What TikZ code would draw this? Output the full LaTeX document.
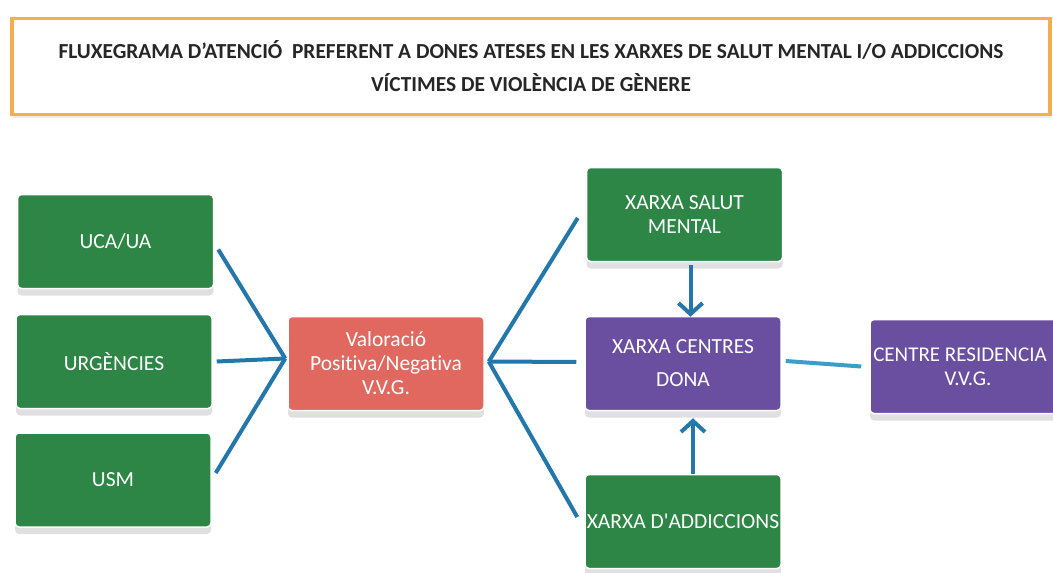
\documentclass[tikz,border=0pt]{standalone}
\usepackage{fontspec}
\setmainfont{Carlito}[Ligatures={NoCommon}]
\usetikzlibrary{arrows.meta,shadows}
\definecolor{boxgreen}{HTML}{2E8646}
\definecolor{boxpurple}{HTML}{6A4FA0}
\definecolor{boxsalmon}{HTML}{E0685E}
\definecolor{linkblue}{HTML}{2377AA}
\definecolor{linklight}{HTML}{3A9DCA}
\definecolor{titleorange}{HTML}{F6AC50}
\tikzset{
  box/.style={rectangle, rounded corners=4pt, draw=white, line width=1.5pt,
    minimum width=196pt, minimum height=94pt, inner sep=2pt,
    text=white, font=\fontsize{21.5pt}{24pt}\selectfont, align=center,
    drop shadow={shadow xshift=0pt, shadow yshift=-7pt, fill=black, opacity=0.12}},
  gbox/.style={box, fill=boxgreen},
  pbox/.style={box, fill=boxpurple},
  sbox/.style={box, fill=boxsalmon},
  conn/.style={draw=linkblue, line width=4pt},
  arr/.style={draw=linkblue, line width=4pt, -{Straight Barb[length=11pt,width=24pt,line width=4pt]}},
}
\begin{document}
\begin{tikzpicture}[x=1pt,y=-1pt]
\useasboundingbox (0,0) rectangle (1053,573);
\clip (0,0) rectangle (1053,573);
\fill[white] (0,0) rectangle (1053,573);
% title
\node[draw=titleorange, line width=3.5pt, minimum width=1038pt, minimum height=96pt,
      drop shadow={shadow xshift=1pt, shadow yshift=-3pt, fill=black, opacity=0.08},
      fill=white, align=center, font=\bfseries\fontsize{21.4pt}{33pt}\selectfont, text=black!85]
  (title) at (531,66.5) {FLUXEGRAMA D'ATENCIÓ\ \ PREFERENT A DONES ATESES EN LES XARXES DE SALUT MENTAL I/O ADDICCIONS\\VÍCTIMES DE VIOLÈNCIA DE GÈNERE};
% left column
\node[gbox] (uca) at (115.5,241.5) {UCA/UA};
\node[gbox] (urg) at (114,361.5) {URGÈNCIES};
\node[gbox] (usm) at (113,480) {USM};
\node[sbox] (val) at (386,363.5) {Valoració\\Positiva/Negativa\\V.V.G.};
% right column
\node[gbox] (salut) at (684.5,214.5) {XARXA SALUT\\MENTAL};
\node[pbox, font=\fontsize{21.5pt}{33pt}\selectfont] (centres) at (683,363.5) {XARXA CENTRES\\DONA};
\node[gbox, inner sep=0pt] (addic) at (683,521.5) {XARXA D\textquotesingle ADDICCIONS};
\node[pbox, font=\fontsize{21pt}{24pt}\selectfont] (resid) at (968,366.5) {\hspace*{-16pt}CENTRE RESIDENCIA\\V.V.G.};
% connectors left
\coordinate (lj) at ([xshift=-2pt,yshift=5pt]val.west);
\draw[conn] ([xshift=4pt,yshift=-8pt]uca.east) -- (lj);
\draw[conn] ([xshift=4pt]urg.east) -- (lj);
\draw[conn] ([xshift=4pt,yshift=7pt]usm.east) -- (lj);
% connectors right
\coordinate (rj) at ([xshift=4pt,yshift=2pt]val.east);
\draw[conn] (rj) -- ([xshift=-8pt,yshift=-3.5pt]salut.west);
\draw[conn] (rj) -- ([xshift=-8pt,yshift=1.5pt]centres.west);
\draw[conn] (rj) -- ([xshift=-7pt,yshift=4.5pt]addic.west);
% arrows
\draw[arr] ([xshift=6pt,yshift=-3pt]salut.south) -- ([xshift=6pt,yshift=-1pt]salut.south |- centres.north);
\draw[arr] ([xshift=10pt]addic.north) -- ([xshift=10pt,yshift=-7pt]addic.north |- centres.south);
\draw[draw=linklight, line width=4pt] ([xshift=4pt,yshift=2.5pt]centres.east) -- ([xshift=-8pt]resid.west);
\end{tikzpicture}
\end{document}
